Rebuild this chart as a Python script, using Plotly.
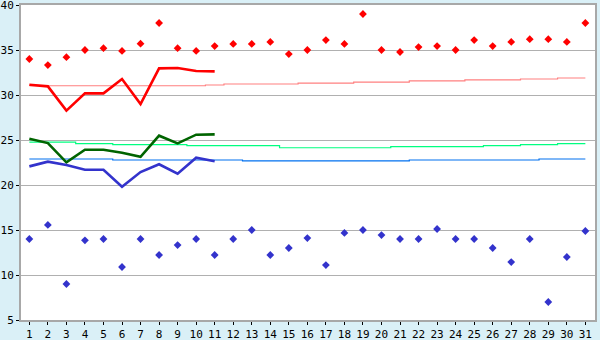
import plotly.graph_objects as go

days = list(range(1, 32))

max_temp = [34.0, 33.33, 34.2, 35.0, 35.2, 34.9, 35.7, 38.0, 35.2, 34.9,
            35.44, 35.67, 35.67, 35.9, 34.55, 35.0, 36.1, 35.67, 39.0, 35.0,
            34.78, 35.33, 35.44, 35.0, 36.1, 35.44, 35.9, 36.2, 36.2, 35.9, 38.0]

min_temp = [14.0, 15.56, 9.0, 13.85, 14.0, 10.89, 14.0, 12.22, 13.33, 14.0,
            12.22, 14.0, 15.0, 12.22, 13.0, 14.1, 11.1, 14.67, 15.0, 14.44,
            14.0, 14.0, 15.11, 14.0, 14.0, 13.0, 11.44, 14.0, 7.0, 12.0, 14.89]

line_days = list(range(1, 12))
red_line = [31.14, 30.96, 28.26, 30.18, 30.18, 31.78, 29.0, 32.96, 33.0, 32.67, 32.63]
green_line = [25.14, 24.66, 22.51, 23.92, 23.92, 23.59, 23.14, 25.48, 24.63, 25.59, 25.62]
blue_line = [22.07, 22.59, 22.22, 21.7, 21.7, 19.81, 21.44, 22.3, 21.26, 23.03, 22.63]

red_norm = [31.03] * 10 + [31.11] + [31.22] * 4 + [31.33] * 3 + [31.44] * 3 + \
           [31.56] * 3 + [31.67] * 3 + [31.78] * 2 + [31.89] * 2
green_norm = [24.77] * 3 + [24.59] * 2 + [24.48] * 4 + [24.37] * 5 + [24.14] * 6 + \
             [24.26] * 5 + [24.37] * 2 + [24.48] * 2 + [24.59] * 2
blue_norm = [22.89] * 5 + [22.78] * 7 + [22.67] * 9 + [22.78] * 7 + [22.89] * 3

y_ticks = [5, 10, 15, 20, 25, 30, 35, 40]

fig = go.Figure()

fig.add_trace(go.Scatter(x=days, y=red_norm, mode="lines", line=dict(color="#FF8080", width=1.2, shape="hvh")))
fig.add_trace(go.Scatter(x=days, y=green_norm, mode="lines", line=dict(color="#00FF80", width=1.2, shape="hvh")))
fig.add_trace(go.Scatter(x=days, y=blue_norm, mode="lines", line=dict(color="#0070F0", width=1.2, shape="hvh")))

fig.add_trace(go.Scatter(x=line_days, y=red_line, mode="lines", line=dict(color="#FF0000", width=2.6)))
fig.add_trace(go.Scatter(x=line_days, y=green_line, mode="lines", line=dict(color="#006400", width=2.6)))
fig.add_trace(go.Scatter(x=line_days, y=blue_line, mode="lines", line=dict(color="#3333CC", width=2.6)))

fig.add_trace(go.Scatter(x=days, y=max_temp, mode="markers",
                         marker=dict(symbol="diamond", size=6, color="#FF0000", line=dict(width=0))))
fig.add_trace(go.Scatter(x=days, y=min_temp, mode="markers",
                         marker=dict(symbol="diamond", size=6, color="#3333CC", line=dict(width=0))))

axis_font = dict(family="DejaVu Sans Mono", size=11, color="black")

fig.update_layout(
    width=600, height=340,
    margin=dict(l=21, r=5, t=5, b=20, autoexpand=False),
    paper_bgcolor="rgb(218,240,247)",
    plot_bgcolor="white",
    showlegend=False,
    xaxis=dict(range=[0.55, 31.52], tickvals=days, ticktext=[str(d) for d in days],
               showgrid=False, zeroline=False, showline=True, linecolor="#A8A8A8", linewidth=2,
               mirror=True, ticks="outside", ticklen=3, tickcolor="black", tickwidth=1,
               tickfont=axis_font, automargin=False, ticklabeloverflow="allow"),
    yaxis=dict(range=[5, 40], tickvals=y_ticks, ticktext=[str(v) for v in y_ticks],
               showgrid=True, gridcolor="#B0B0B0", gridwidth=1, zeroline=False,
               showline=True, linecolor="#A8A8A8", linewidth=2, mirror=True,
               ticks="outside", ticklen=3, tickcolor="black", tickwidth=1,
               tickfont=axis_font, automargin=False, ticklabeloverflow="allow"),
)

fig.write_html("out.html")
